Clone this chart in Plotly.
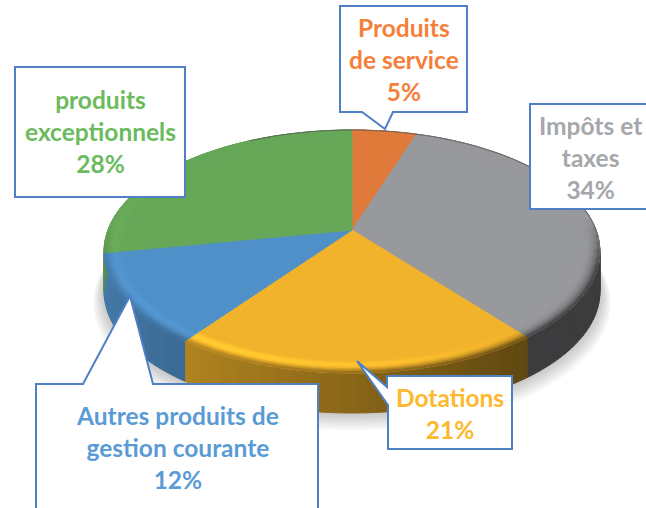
import math
import plotly.graph_objects as go

labels = ["Produits<br>de service", "Impôts et<br>taxes", "Dotations", "Autres produits de<br>gestion courante", "produits<br>exceptionnels"]
values = [5.0, 34.4, 20.6, 12.0, 28.0]
top_colors = ["#e07a3a", "#98999c", "#f0b32b", "#5090c8", "#66a858"]
text_colors = ["#f4803a", "#a5a7ab", "#fdb92e", "#5b9bd5", "#6bbb5e"]
text_pos = [(404, 59.5), (590, 157), (450, 413), (177, 447.5), (100, 131)]

CX, CY, K, KY, A = 352, 230, 244, 117.7, 0.177
DEPTH = 40
BORDER = "#4f7fc4"
callouts = [
    [(340, 6), (467, 6), (467, 112), (393, 112), (385, 129), (362, 112), (340, 112)],
    [(530, 104), (660, 104), (660, 209), (530, 209)],
    [(387, 376), (512, 376), (512, 449), (388, 449), (388, 405), (357, 361), (387, 387)],
    [(36, 384), (83, 384), (130, 296), (153, 384), (318, 384), (318, 530), (36, 530)],
    [(15, 67), (185, 67), (185, 197), (15, 197)],
]


def proj(pct, r=1.0, dy=0.0):
    t = 2 * math.pi * pct / 100
    u, v = r * math.sin(t), r * math.cos(t)
    w = 1 + A * v
    return CX + K * u / w, CY - KY * v / w + dy


def rgb(c):
    return tuple(int(c[i:i + 2], 16) for i in (1, 3, 5))


def hexc(c):
    return "#%02x%02x%02x" % tuple(max(0, min(255, round(x))) for x in c)


def side_factor(pct):
    u = math.sin(2 * math.pi * pct / 100)
    return max(0.39, 0.57 - 0.28 * u)


def poly(pts, color, line=True):
    xs = [p[0] for p in pts] + [pts[0][0]]
    ys = [p[1] for p in pts] + [pts[0][1]]
    return go.Scatter(x=xs, y=ys, mode="lines", fill="toself", fillcolor=color,
                      line=dict(color=color if line else "rgba(0,0,0,0)", width=1),
                      hoverinfo="skip", showlegend=False)


def segments(step):
    """(slice index, start pct, end pct) pieces, following the slice values."""
    out, start = [], 0.0
    for idx, val in enumerate(values):
        n = max(1, math.ceil(val / step))
        for k in range(n):
            out.append((idx, start + val * k / n, start + val * (k + 1) / n))
        start += val
    return out


fig = go.Figure()

# soft shadow below
for i in range(7, 0, -1):
    r = 1 + i * 0.006
    pts = [proj(p / 2, r, DEPTH + i * 1.4) for p in range(200)]
    fig.add_trace(poly(pts, "rgba(0,0,0,0.03)", line=False))

# side wall
for s, a, b in segments(0.5):
    base = rgb(top_colors[s])
    f = side_factor((a + b) / 2)
    col = hexc([c * f for c in base])
    fig.add_trace(poly([proj(a), proj(b), proj(b, 1, DEPTH), proj(a, 1, DEPTH)], col))

# top face
start = 0.0
for idx, val in enumerate(values):
    n = math.ceil(val * 4)
    pts = [(CX, CY)] + [proj(start + val * k / n) for k in range(n + 1)]
    fig.add_trace(poly(pts, top_colors[idx]))
    start += val

# bevel round the rim
N = 9
RS = [0.925 + 0.075 * j / N for j in range(N + 1)]
for s, a, b in segments(1.0):
    base = rgb(top_colors[s])
    mid = (a + b) / 2
    th = 2 * math.pi * mid / 100
    v = math.cos(th)
    f = side_factor(mid)
    h = max(0.0, math.cos(th - math.radians(215))) ** 1.5
    w = min(1.0, max(0.0, (0.1 - v) / 0.4))
    amp = 0.2 if s == 2 else 0.08
    for j in range(N):
        t = (j + 0.5) / N
        gain = 1 + amp * h * math.sin(math.pi * t) ** 2
        mix = w * t ** 3
        m = gain * (1 - mix) + f * mix
        col = hexc([c * m for c in base])
        fig.add_trace(poly([proj(a, RS[j]), proj(b, RS[j]), proj(b, RS[j + 1]), proj(a, RS[j + 1])], col))

# thin dark back edge
back = [proj(p) for p in range(-8, 27)]
fig.add_trace(go.Scatter(x=[q[0] for q in back], y=[q[1] for q in back], mode="lines",
                         line=dict(color="#5c5c5c", width=0.8), hoverinfo="skip", showlegend=False))

shapes = []
for pts in callouts:
    path = "M " + " L ".join(f"{x},{y}" for x, y in pts) + " Z"
    shapes.append(dict(type="path", path=path, xref="x", yref="y", fillcolor="white",
                       line=dict(color=BORDER, width=2)))

annotations = []
for lab, val, col, (x, y) in zip(labels, values, text_colors, text_pos):
    annotations.append(dict(x=x, y=y, xref="x", yref="y", text=f"<b>{lab}<br>{round(val)}%</b>", showarrow=False,
                            align="center", font=dict(family="Lato", size=24.5, color=col)))

fig.update_layout(width=646, height=508, margin=dict(l=0, r=0, t=0, b=0),
                  paper_bgcolor="white", plot_bgcolor="white", showlegend=False,
                  xaxis=dict(range=[0, 646], visible=False, fixedrange=True),
                  yaxis=dict(range=[508, 0], visible=False, fixedrange=True),
                  shapes=shapes, annotations=annotations)
fig.write_html("out.html", config={"displayModeBar": False},
               post_script="document.body.style.margin='0';document.documentElement.style.overflow='hidden';")
